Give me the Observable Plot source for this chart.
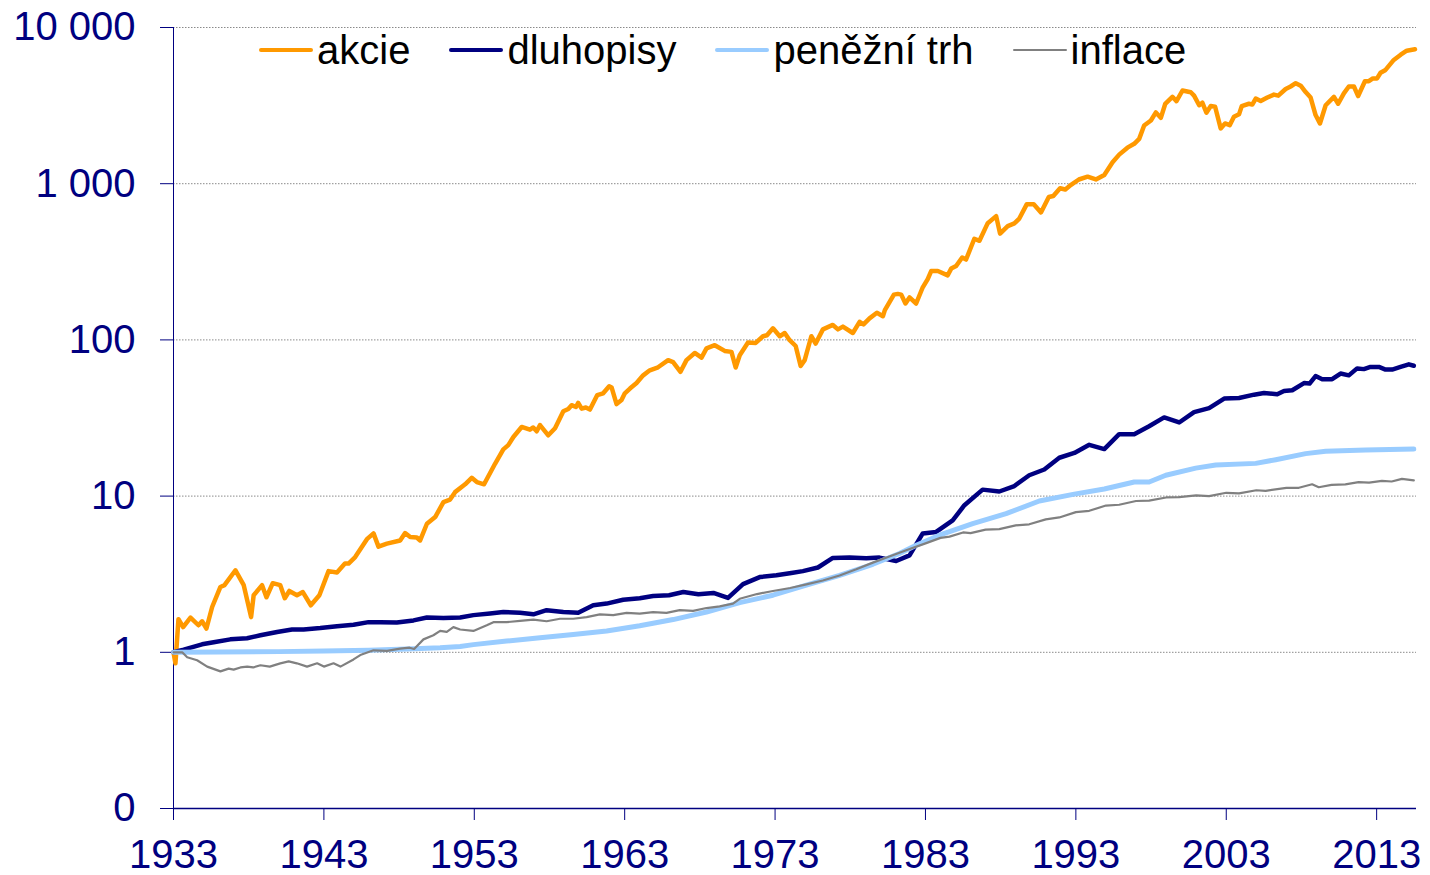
<!DOCTYPE html>
<html>
<head>
<meta charset="utf-8">
<script src="https://cdn.jsdelivr.net/npm/d3@7"></script>
<script src="https://cdn.jsdelivr.net/npm/@observablehq/plot@0.6"></script>
<style>
  html, body { margin: 0; padding: 0; background: #fff; overflow: hidden; }
  #wrap { position: relative; width: 1430px; height: 875px; }
  #legend { position: absolute; left: 259px; top: 30px; height: 40px; display: flex; align-items: center; gap: 39px;
            font-family: "Liberation Sans", Arial, sans-serif; font-size: 40px; line-height: 40px; color: #000; }
  .item { display: flex; align-items: center; gap: 4px; white-space: nowrap; }
  .swatch { width: 54px; border-radius: 2px; }
</style>
</head>
<body>
<div id="wrap"><div id="legend"></div></div>
<script>
// ---- data ----
const seriesNames = ["akcie", "dluhopisy", "peněžní trh", "inflace"];
const xTicks = [1933, 1943, 1953, 1963, 1973, 1983, 1993, 2003, 2013];
const yTicks = [0.1, 1, 10, 100, 1000, 10000];

const akcieYears = [1933.0,1933.13,1933.33,1933.64,1934.13,1934.66,1934.9,1935.19,1935.57,1936.12,1936.39,1937.12,1937.67,1938.16,1938.33,1938.89,1939.18,1939.6,1940.1,1940.4,1940.7,1941.21,1941.6,1942.13,1942.7,1943.31,1943.87,1944.4,1944.64,1945.08,1945.86,1946.3,1946.63,1947.19,1948.07,1948.4,1948.74,1949.18,1949.4,1949.85,1950.4,1950.95,1951.39,1951.72,1952.39,1952.83,1953.17,1953.65,1954.38,1954.93,1955.26,1955.6,1956.15,1956.7,1956.92,1957.15,1957.37,1957.92,1958.37,1958.92,1959.25,1959.47,1959.76,1959.91,1960.14,1960.42,1960.69,1961.17,1961.57,1961.97,1962.13,1962.46,1962.79,1963.01,1963.35,1963.79,1964.23,1964.67,1965.22,1965.89,1966.22,1966.71,1967.11,1967.66,1968.11,1968.44,1968.99,1969.65,1970.1,1970.38,1970.65,1971.2,1971.71,1972.2,1972.46,1972.86,1973.31,1973.64,1973.97,1974.37,1974.7,1974.97,1975.41,1975.7,1976.18,1976.84,1977.18,1977.51,1978.17,1978.62,1978.88,1979.28,1979.77,1980.17,1980.3,1980.9,1981.16,1981.39,1981.67,1981.94,1982.38,1982.8,1983.15,1983.38,1983.82,1984.48,1984.71,1985.04,1985.44,1985.7,1986.25,1986.59,1987.14,1987.7,1987.96,1988.47,1988.91,1989.24,1989.74,1990.2,1990.68,1991.2,1991.5,1991.95,1992.3,1992.68,1993.2,1993.78,1994.33,1994.89,1995.44,1995.88,1996.43,1996.88,1997.21,1997.54,1997.99,1998.32,1998.65,1998.94,1999.42,1999.69,2000.09,2000.64,2000.86,2001.2,2001.41,2001.68,2001.97,2002.26,2002.63,2002.92,2003.23,2003.51,2003.85,2004.03,2004.51,2004.73,2004.96,2005.29,2005.73,2006.17,2006.46,2006.95,2007.28,2007.62,2007.95,2008.28,2008.61,2008.94,2009.23,2009.61,2010.16,2010.44,2010.82,2011.15,2011.49,2011.77,2012.22,2012.48,2012.75,2013.03,2013.26,2013.59,2014.14,2014.6,2015.0,2015.55];
const akcieValues = [1.0,0.85,1.63,1.45,1.67,1.49,1.58,1.42,1.95,2.62,2.69,3.35,2.69,1.68,2.32,2.69,2.25,2.77,2.69,2.22,2.47,2.32,2.43,2.0,2.32,3.31,3.24,3.7,3.7,4.07,5.3,5.77,4.75,4.96,5.2,5.8,5.47,5.43,5.2,6.65,7.34,9.15,9.5,10.6,11.9,13.1,12.3,11.9,16.1,19.9,21.2,23.9,27.7,26.6,27.5,26.0,28.5,24.5,27.2,34.9,36.1,38.2,37.2,39.5,36.3,36.9,35.8,44.3,45.5,50.5,49.6,38.8,41.2,45.5,48.8,53,59.3,63.9,66.8,74.2,72,62.5,74.2,82.5,77.0,88.2,92.5,85.0,83.8,66.6,79.8,96.2,95.6,105.5,107.1,118.6,105.5,110.7,99.6,91.4,68.1,74.2,105.5,94.8,116.8,124.7,116.8,121.6,110.7,130.6,125.7,137.3,149.1,141.8,155,195,197,195,171,187,171,215,245,276,276,259,286,297,337,327,444,431,559,620,479,535,557,598,740,738,655,822,834,935,918,983,1064,1109,1064,1138,1372,1535,1701,1800,1937,2357,2540,2860,2640,3240,3600,3380,3950,3850,3660,3180,3300,2850,3140,3110,2260,2430,2370,2680,2780,3140,3250,3210,3510,3380,3560,3720,3660,4040,4190,4400,4240,3860,3560,2750,2430,3180,3600,3250,3790,4190,4190,3640,4530,4530,4720,4720,5130,5350,6200,6700,7100,7250];

const dluhopisyYears = [1933.0,1933.68,1934.9,1935.67,1936.78,1937.89,1938.78,1939.89,1940.88,1941.65,1942.76,1943.87,1944.97,1945.97,1946.75,1947.85,1948.96,1949.85,1950.95,1952.06,1952.94,1954.05,1954.93,1956.04,1956.93,1957.81,1958.92,1959.91,1960.91,1961.8,1962.9,1964.0,1964.89,1965.95,1966.9,1967.9,1968.9,1969.87,1970.87,1971.98,1973.09,1974.08,1974.85,1975.85,1976.84,1977.95,1979.06,1979.94,1981.05,1981.94,1982.82,1983.71,1984.81,1985.59,1986.8,1987.91,1988.91,1989.9,1990.9,1991.9,1992.9,1993.89,1994.89,1995.88,1996.88,1997.87,1998.87,1999.87,2000.86,2001.86,2002.86,2003.85,2004.85,2005.51,2006.39,2006.84,2007.39,2008.17,2008.54,2008.94,2009.38,2010.04,2010.6,2011.15,2011.7,2012.15,2012.59,2013.15,2013.59,2014.03,2014.59,2015.14,2015.47];
const dluhopisyValues = [1.0,1.04,1.125,1.16,1.21,1.23,1.285,1.35,1.4,1.4,1.43,1.47,1.5,1.56,1.56,1.55,1.6,1.67,1.66,1.67,1.73,1.77,1.81,1.79,1.75,1.86,1.81,1.79,2.0,2.05,2.17,2.22,2.29,2.32,2.43,2.35,2.4,2.23,2.73,3.03,3.11,3.22,3.31,3.49,4.02,4.04,4.0,4.04,3.84,4.17,5.77,5.9,7.0,8.74,11.0,10.7,11.6,13.6,14.8,17.6,18.9,21.3,20.0,24.9,24.9,28.0,31.9,29.6,34.5,36.6,42.1,42.5,44.6,45.7,44.9,47.1,47.6,52.9,52.5,58.7,56.0,56.0,60.9,59.3,65.7,65.0,67.1,67.1,64.6,64.6,67.1,69.8,68.3];

const trhYears = [1933,1936,1940,1943,1946,1949,1950.73,1952.06,1952.94,1955.15,1957.37,1959.58,1961.8,1964.0,1966.22,1968.44,1970.65,1972.86,1975.08,1977.29,1979.5,1981.27,1982.38,1983.93,1986.14,1988.36,1990.57,1992.9,1994.89,1996.88,1997.87,1998.98,2000.97,2002.3,2004.96,2006.29,2008.28,2009.61,2012.27,2015.47];
const trhValues = [1.0,1.005,1.01,1.02,1.03,1.055,1.07,1.09,1.12,1.18,1.24,1.3,1.37,1.48,1.62,1.81,2.08,2.32,2.69,3.11,3.66,4.29,4.84,5.62,6.66,7.72,9.3,10.3,11.1,12.3,12.3,13.6,15.1,15.8,16.2,17.1,18.7,19.4,19.7,20.0];

const inflaceYears = [1933.0,1933.58,1933.91,1934.57,1935.24,1936.12,1936.67,1937.0,1937.45,1937.9,1938.3,1938.78,1939.4,1940.1,1940.66,1941.2,1941.88,1942.55,1943.0,1943.64,1944.1,1944.97,1945.42,1946.3,1947.2,1948.07,1948.7,1949.0,1949.62,1950.28,1950.73,1951.17,1951.61,1952.06,1952.94,1953.83,1954.27,1955.15,1956.04,1956.93,1957.81,1958.7,1959.58,1960.47,1961.35,1962.24,1963.13,1964.0,1964.89,1965.78,1966.66,1967.55,1968.44,1969.32,1970.2,1970.65,1971.8,1972.86,1974.0,1975.08,1976.18,1977.29,1978.4,1979.5,1980.6,1981.72,1983.05,1984.0,1984.6,1985.5,1986.0,1987.0,1987.91,1989.0,1989.9,1991.0,1991.9,1993.0,1993.89,1995.0,1995.88,1997.0,1997.87,1999.0,1999.87,2001.0,2001.86,2003.0,2003.85,2005.0,2005.62,2007.0,2007.83,2008.71,2009.15,2010.0,2010.92,2011.8,2012.5,2013.35,2014.0,2014.68,2015.47];
const inflaceValues = [1.0,1.0,0.93,0.89,0.81,0.755,0.786,0.775,0.8,0.81,0.8,0.826,0.81,0.85,0.875,0.85,0.81,0.85,0.81,0.85,0.81,0.9,0.96,1.03,1.02,1.055,1.07,1.05,1.21,1.285,1.37,1.35,1.45,1.4,1.37,1.49,1.56,1.56,1.59,1.62,1.58,1.64,1.64,1.68,1.75,1.73,1.79,1.77,1.81,1.79,1.86,1.84,1.92,1.97,2.05,2.2,2.36,2.47,2.58,2.72,2.88,3.1,3.4,3.75,4.1,4.5,5.0,5.4,5.5,5.85,5.8,6.1,6.15,6.5,6.6,7.1,7.3,7.9,8.05,8.7,8.8,9.3,9.35,9.8,9.85,10.1,10.0,10.5,10.4,10.9,10.8,11.3,11.3,11.9,11.4,11.8,11.9,12.3,12.2,12.5,12.4,12.9,12.6];

// ---- styles ----
const seriesColors = ["#FF9900", "#000080", "#99CCFF", "#808080"];
const seriesWidths = [4.5, 4.5, 5, 2.2];

const toRows = (ys, vs) => ys.map((y, i) => ({year: y, value: vs[i]}));
const tables = [
  toRows(akcieYears, akcieValues),
  toRows(dluhopisyYears, dluhopisyValues),
  toRows(trhYears, trhValues),
  toRows(inflaceYears, inflaceValues)
];

const fmt = d3.formatLocale({decimal: ",", thousands: " ", grouping: [3], currency: ["", ""]}).format(",");
const axisColor = "#000080";

const lineMarks = tables.map((t, i) => Plot.line(t, {
  x: "year", y: "value", stroke: seriesColors[i], strokeWidth: seriesWidths[i],
  strokeLinejoin: "round", strokeLinecap: "round"
}));

const chart = Plot.plot({
  width: 1430, height: 875,
  marginLeft: 173, marginRight: 14, marginTop: 27, marginBottom: 67,
  style: {fontFamily: "'Liberation Sans', Arial, sans-serif", fontSize: "40px", color: axisColor, background: "transparent", overflow: "visible"},
  x: {domain: [1933, 2015.65], label: null},
  y: {type: "log", domain: [0.1, 10000], label: null},
  marks: [
    Plot.ruleY(yTicks.slice(1), {stroke: "#8a8a8a", strokeWidth: 1, strokeDasharray: "1.5,1.5"}),
    Plot.axisY(yTicks, {tickSize: 13, tickPadding: 25, tickFormat: d => d < 1 ? "0" : fmt(d), label: null, stroke: axisColor, fill: axisColor, fontSize: 40}),
    Plot.axisX(xTicks, {tickSize: 12, tickPadding: 19, tickFormat: d => String(d), label: null, stroke: axisColor, fill: axisColor, fontSize: 40}),
    Plot.ruleX([1933], {stroke: axisColor, strokeWidth: 1}),
    Plot.ruleY([0.1], {stroke: axisColor, strokeWidth: 1.5}),
    ...lineMarks
  ]
});

const wrap = document.getElementById("wrap");
wrap.insertBefore(chart, wrap.firstChild);

const legend = document.getElementById("legend");
seriesNames.forEach((name, i) => {
  const item = document.createElement("div");
  item.className = "item";
  const sw = document.createElement("span");
  sw.className = "swatch";
  sw.style.height = (i === 3 ? 2.5 : 4.5) + "px";
  sw.style.background = seriesColors[i];
  const tx = document.createElement("span");
  tx.textContent = name;
  item.appendChild(sw); item.appendChild(tx);
  legend.appendChild(item);
});
</script>
</body>
</html>
